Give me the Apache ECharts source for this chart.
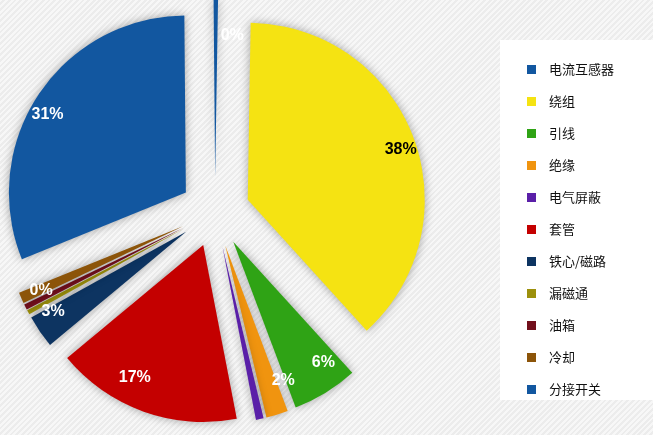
<!DOCTYPE html>
<html><head><meta charset="utf-8">
<script src="https://cdn.jsdelivr.net/npm/echarts@6/dist/echarts.min.js"></script>
<style>html,body{margin:0;padding:0;background:#f3f3f3}
#c{width:653px;height:435px;background:repeating-linear-gradient(135deg,#f7f7f7 0 2px,#ececec 2px 4px)}
#lb{position:absolute;left:500px;top:40px;width:153px;height:360px;background:#fff}</style>
</head><body><div id="c" style="position:absolute;left:0;top:0"></div><div id="lb"></div><div id="k" style="position:absolute;left:0;top:0;width:653px;height:435px"></div>
<script>
var names = ['电流互感器','绕组','引线','绝缘','电气屏蔽','套管','铁心/磁路','漏磁通','油箱','冷却','分接开关'];
var values = [0.4, 38, 6, 2, 0.7, 17, 3, 0.4, 0.5, 1, 31];
var colors = ['#1257a0','#f5e312','#2fa315','#f0940f','#5a1fa8','#c40000','#0d3461','#9c900c','#720f1c','#8c5409','#1257a0'];
var labels = ['0%','38%','6%','2%','1%','17%','3%','0%','0%','1%','31%'];

var data = names.map(function(n, i) {
	return {
		name: n, value: values[i], selected: true,
		itemStyle: {color: colors[i]},
		label: {formatter: labels[i], color: i == 1 ? '#000' : '#fff'}
	};
});

var chart = echarts.init(document.getElementById('k'));
chart.setOption({
	animation: false,
	legend: {
		orient: 'vertical', left: 522, top: 58, itemGap: 19,
		itemWidth: 9, itemHeight: 9, icon: 'rect',
		textStyle: {fontSize: 13, color: '#111', fontFamily: 'Noto Sans CJK SC', padding: [10, 0, 0, 8]},
		selectedMode: false
	},
	series: [{
		type: 'pie', center: [215, 212], radius: 177, startAngle: 90.5,
		selectedMode: 'multiple', selectedOffset: 35,
		itemStyle: {shadowBlur: 10, shadowColor: 'rgba(0,0,0,0.35)'},
		label: {position: 'outside', alignTo: 'none', fontSize: 16, fontWeight: 'bold', fontFamily: 'Arial'},
		labelLine: {show: false, length: -36, length2: 0},
		avoidLabelOverlap: false,
		emphasis: {disabled: true},
		data: data
	}]
});
</script></body></html>
